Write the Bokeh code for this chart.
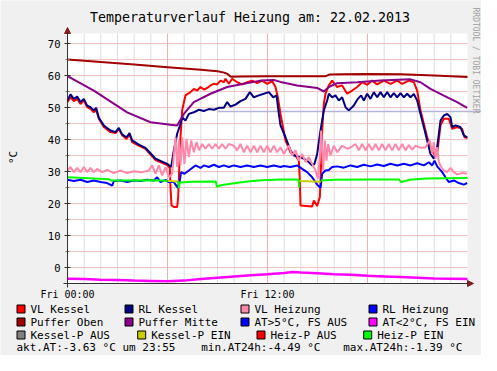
import math
from bokeh.plotting import figure
from bokeh.models import Range1d, Arrow, NormalHead
from bokeh.core.properties import value
from bokeh.embed import file_html
from bokeh.resources import INLINE

nan = float("nan")
FONT = "DejaVu Sans Mono"

# ---------------- data (hours since Fri 00:00, temperature in degC) ----------------
vl_kessel = [(0.0, 51.7), (0.18, 53.2), (0.38, 52.0), (0.58, 52.7), (0.78, 51.1), (0.98, 52.2),
             (1.18, 50.1), (1.38, 49.6), (1.58, 48.5), (1.72, 49.3), (1.88, 46.5), (2.18, 43.9),
             (2.58, 42.3), (2.88, 42.0), (3.08, 43.3), (3.28, 41.3), (3.54, 40.2), (3.72, 41.6),
             (3.88, 39.2), (4.28, 38.1), (4.68, 37.1), (4.98, 35.3), (5.28, 33.6), (5.68, 32.7),
             (5.98, 32.0), (6.14, 31.1), (6.18, 25.1), (6.24, 19.4), (6.38, 18.9), (6.58, 18.9),
             (6.64, 22.0), (6.70, 30.3), (6.78, 40.7), (6.88, 49.1), (7.08, 53.8), (7.38, 54.8),
             (7.58, 55.8), (7.78, 55.3), (7.98, 56.4), (8.18, 55.6), (8.38, 56.1), (8.58, 56.9),
             (8.78, 57.4), (8.98, 57.2), (9.18, 58.4), (9.38, 57.9), (9.48, 59.0), (9.68, 57.4),
             (9.88, 59.0), (10.18, 57.9), (10.48, 57.2), (10.78, 57.9), (11.08, 58.4), (11.38, 57.6),
             (11.68, 58.4), (11.98, 57.4), (12.28, 58.2), (12.48, 56.4), (12.62, 53.2), (12.78, 48.0),
             (13.08, 39.7), (13.38, 36.0), (13.68, 35.0), (13.88, 33.4), (13.94, 27.2), (13.98, 19.4),
             (14.68, 19.1), (14.78, 20.9), (14.98, 19.2), (15.14, 22.0), (15.18, 27.2), (15.28, 42.8),
             (15.38, 51.1), (15.48, 54.3), (15.68, 56.9), (15.88, 58.4), (16.18, 56.4), (16.48, 56.9),
             (16.78, 54.3), (17.08, 55.3), (17.38, 56.4), (17.68, 57.9), (17.98, 57.1), (18.28, 58.4),
             (18.58, 57.2), (18.98, 58.4), (19.38, 57.4), (19.78, 58.4), (20.08, 57.4), (20.48, 58.4),
             (20.78, 57.9), (20.98, 55.3), (21.18, 49.1), (21.38, 44.9), (21.58, 40.7), (21.78, 37.6),
             (21.98, 35.5), (22.18, 35.5), (22.38, 44.4), (22.58, 46.5), (22.88, 46.5), (23.08, 43.3),
             (23.38, 43.9), (23.68, 43.3), (23.82, 40.7), (24.0, 40.5)]

rl_kessel = [(0.0, 52.2), (0.18, 54.1), (0.38, 52.7), (0.58, 53.4), (0.78, 51.7), (0.98, 52.7),
             (1.18, 50.6), (1.38, 50.1), (1.58, 49.1), (1.72, 49.9), (1.88, 46.8), (2.18, 44.4),
             (2.58, 42.8), (2.88, 42.3), (3.08, 43.6), (3.28, 41.6), (3.54, 40.7), (3.72, 42.0),
             (3.88, 39.7), (4.28, 38.4), (4.68, 37.4), (4.98, 35.7), (5.28, 34.0), (5.68, 33.1),
             (5.98, 32.4), (6.22, 31.4), (6.38, 36.6), (6.58, 41.8), (6.78, 44.9), (6.88, 47.0),
             (7.08, 45.9), (7.28, 48.0), (7.58, 48.5), (7.88, 49.3), (8.18, 48.9), (8.48, 49.5),
             (8.78, 49.3), (9.08, 49.9), (9.38, 49.9), (9.58, 51.7), (9.78, 50.3), (10.08, 50.9),
             (10.38, 52.0), (10.68, 52.7), (10.94, 54.8), (11.18, 53.2), (11.48, 53.8), (11.78, 54.3),
             (12.08, 54.8), (12.34, 53.2), (12.54, 53.8), (12.68, 48.0), (12.78, 44.4), (13.08, 40.7),
             (13.38, 36.6), (13.58, 35.0), (13.98, 34.5), (14.38, 33.4), (14.68, 31.9), (14.82, 32.4),
             (14.98, 35.5), (15.18, 42.8), (15.38, 49.1), (15.58, 52.2), (15.68, 54.3), (15.88, 53.2),
             (16.08, 53.8), (16.28, 52.2), (16.48, 53.2), (16.68, 50.1), (16.88, 49.1), (17.18, 50.6),
             (17.42, 52.7), (17.62, 53.8), (17.78, 52.2), (17.98, 54.3), (18.18, 52.7), (18.38, 54.8),
             (18.58, 53.2), (18.78, 54.8), (18.98, 53.2), (19.18, 54.8), (19.38, 53.2), (19.58, 54.5),
             (19.78, 53.2), (19.98, 54.5), (20.18, 53.2), (20.38, 54.3), (20.58, 53.2), (20.78, 54.2),
             (20.98, 52.2), (21.18, 48.0), (21.38, 43.9), (21.58, 39.7), (21.78, 35.5), (21.98, 34.0),
             (22.18, 37.6), (22.38, 45.9), (22.58, 47.5), (22.78, 48.0), (22.98, 47.0), (23.08, 43.9),
             (23.28, 44.4), (23.58, 43.9), (23.78, 41.3), (23.98, 40.7)]

vl_heizung = [(0.0, 30.3), (0.18, 31.4), (0.38, 29.8), (0.58, 31.1), (0.78, 29.8), (0.98, 31.4),
              (1.18, 29.8), (1.38, 31.1), (1.58, 29.8), (1.78, 30.8), (2.08, 29.8), (2.38, 30.5),
              (2.78, 29.5), (3.18, 30.3), (3.58, 29.5), (3.98, 30.1), (4.48, 29.8), (4.88, 30.3),
              (5.08, 31.9), (5.28, 29.3), (5.48, 31.9), (5.68, 28.8), (5.88, 31.4), (6.08, 28.2),
              (6.28, 29.3), (6.48, 40.7), (6.58, 31.4), (6.68, 39.7), (6.78, 31.9), (6.88, 40.7),
              (7.02, 32.4), (7.14, 40.2), (7.28, 34.5), (7.42, 39.7), (7.58, 36.0), (7.74, 39.2),
              (7.90, 36.6), (8.08, 38.6), (8.28, 37.1), (8.48, 38.6), (8.68, 37.1), (8.88, 38.6),
              (9.08, 37.1), (9.28, 38.6), (9.48, 37.1), (9.68, 38.6), (9.98, 38.1), (10.18, 36.6),
              (10.38, 38.6), (10.58, 36.0), (10.78, 38.1), (10.98, 36.0), (11.18, 38.1), (11.38, 36.0),
              (11.58, 38.1), (11.78, 36.0), (11.98, 38.1), (12.18, 36.0), (12.38, 38.1), (12.58, 36.0),
              (12.78, 37.6), (12.98, 35.5), (13.28, 38.1), (13.48, 35.0), (13.68, 36.6), (13.88, 33.4),
              (14.08, 35.5), (14.28, 32.9), (14.48, 34.5), (14.68, 32.4), (14.88, 30.3), (15.02, 27.7),
              (15.14, 34.5), (15.22, 42.8), (15.34, 30.3), (15.44, 39.7), (15.54, 33.4), (15.64, 38.6),
              (15.78, 35.0), (15.98, 38.1), (16.18, 36.0), (16.48, 38.1), (16.78, 37.1), (17.08, 37.8),
              (17.28, 38.6), (17.48, 36.6), (17.68, 38.6), (17.88, 36.6), (18.08, 38.6), (18.28, 36.6),
              (18.48, 38.6), (18.68, 36.6), (18.88, 38.6), (19.08, 36.6), (19.28, 38.6), (19.48, 36.6),
              (19.68, 38.6), (19.88, 36.6), (20.08, 38.6), (20.28, 36.6), (20.48, 38.3), (20.68, 36.8),
              (20.88, 38.1), (21.18, 37.4), (21.48, 37.6), (21.74, 39.7), (21.88, 35.5), (21.98, 39.2),
              (22.08, 34.0), (22.18, 37.6), (22.28, 32.9), (22.42, 31.4), (22.58, 30.3), (22.78, 29.8),
              (22.98, 31.1), (23.18, 29.8), (23.38, 29.1), (23.68, 29.5), (23.98, 29.3)]

rl_heizung = [(0.0, 27.4), (0.38, 27.0), (0.78, 27.4), (1.18, 26.7), (1.58, 27.2), (1.98, 26.7),
              (2.38, 26.4), (2.68, 25.6), (2.78, 27.0), (3.18, 27.2), (3.58, 26.7), (3.98, 27.2),
              (4.38, 27.0), (4.78, 27.4), (5.18, 27.2), (5.38, 28.2), (5.58, 26.7), (5.88, 27.4),
              (6.08, 26.7), (6.38, 26.7), (6.62, 24.9), (6.74, 27.2), (6.82, 29.8), (7.02, 29.3),
              (7.28, 30.3), (7.48, 31.1), (7.68, 31.9), (7.98, 31.1), (8.18, 31.9), (8.48, 31.4),
              (8.78, 32.1), (9.08, 31.4), (9.38, 31.9), (9.68, 31.4), (9.98, 31.9), (10.38, 31.4),
              (10.78, 31.9), (11.18, 31.4), (11.58, 31.9), (11.98, 31.4), (12.38, 31.9), (12.78, 31.4),
              (12.98, 31.7), (13.38, 31.4), (13.78, 31.9), (14.08, 30.8), (14.38, 29.8), (14.68, 28.2),
              (14.98, 25.9), (15.18, 24.9), (15.28, 29.3), (15.48, 30.3), (15.68, 30.5), (15.88, 31.4),
              (16.18, 31.6), (16.58, 31.2), (16.98, 31.9), (17.38, 31.4), (17.78, 32.1), (18.18, 31.6),
              (18.58, 32.2), (18.98, 31.7), (19.38, 32.4), (19.78, 31.9), (20.18, 32.4), (20.58, 31.9),
              (20.98, 32.6), (21.38, 31.9), (21.68, 32.9), (21.88, 31.9), (22.02, 33.4), (22.18, 31.6),
              (22.48, 29.8), (22.68, 28.2), (22.88, 26.7), (23.18, 27.2), (23.48, 26.4), (23.78, 25.9),
              (23.98, 26.4)]

puffer_oben = [(0.0, 65.0), (2.0, 64.2), (4.0, 63.4), (6.0, 62.6), (8.0, 61.8), (9.0, 61.3),
               (9.4, 60.9), (9.6, 60.5), (9.8, 59.6), (10.5, 59.7), (12.0, 59.8), (14.0, 59.8),
               (15.5, 59.8), (15.7, 60.3), (16.5, 60.4), (18.0, 60.5), (20.0, 60.4), (22.0, 60.0),
               (24.0, 59.5)]

puffer_mitte = [(0.0, 59.8), (1.58, 55.3), (3.58, 48.5), (4.98, 45.4), (6.18, 44.6), (6.58, 44.4),
                (6.98, 48.0), (7.58, 51.7), (8.58, 54.3), (9.58, 56.4), (10.58, 57.4), (11.58, 58.4),
                (12.38, 58.6), (12.78, 58.0), (13.78, 56.9), (14.98, 56.1), (15.38, 55.0), (15.68, 56.4),
                (16.18, 57.6), (17.38, 57.9), (18.78, 58.4), (20.58, 58.8), (21.18, 57.9), (21.78, 55.8),
                (22.58, 53.7), (23.38, 51.7), (23.98, 49.9)]

aussentemp = [(0.0, -3.5), (1.0, -3.6), (2.0, -3.8), (3.0, -3.9), (4.0, -4.1), (5.0, -4.2),
              (6.0, -4.3), (7.0, -4.1), (8.0, -3.6), (9.0, -3.2), (10.0, -2.8), (11.0, -2.4),
              (12.0, -2.1), (13.0, -1.7), (13.5, -1.4), (14.0, -1.6), (15.0, -1.8), (16.0, -2.1),
              (17.0, -2.3), (18.0, -2.6), (19.0, -2.8), (20.0, -3.0), (21.0, -3.2), (22.0, -3.4),
              (23.0, -3.5), (24.0, -3.6)]

kessel_p_ein = [(6.0, 27.0), (6.66, 26.9), (6.67, nan), (13.9, 27.0), (15.2, 26.8)]

heiz_p_ein = [(0.0, 28.2), (1.0, 28.0), (2.5, 27.6), (2.6, 27.2), (5.0, 27.3), (6.0, 27.1),
              (6.05, nan), (6.64, 26.9), (6.68, 24.8), (6.74, 26.6), (7.5, 26.8), (8.9, 26.9),
              (8.96, 25.2), (9.2, 25.7), (10.0, 26.3), (10.8, 26.9), (11.6, 27.3), (12.8, 27.5),
              (13.86, 27.5), (13.9, 25.0), (13.92, nan), (15.2, 27.2), (16.0, 27.4), (18.0, 27.5),
              (19.9, 27.5), (20.0, 26.7), (20.2, 26.9), (20.5, 27.4), (21.5, 27.8), (24.0, 28.0)]

hrule_value = 48.75
hrule_start = 9.0

y_tick_values = [0, 10, 20, 30, 40, 50, 60, 70]
x_tick_hours = [0, 12]
x_tick_labels = ["Fri 00:00", "Fri 12:00"]

legend_labels = ["VL Kessel", "RL Kessel", "VL Heizung", "RL Heizung",
                 "Puffer Oben", "Puffer Mitte", "AT>5°C, FS AUS", "AT<2°C, FS EIN",
                 "Kessel-P AUS", "Kessel-P EIN", "Heiz-P AUS", "Heiz-P EIN"]
legend_colors = ["#ff0000", "#000080", "#ff88aa", "#0000ff",
                 "#a00000", "#880088", "#0000ff", "#ff00ff",
                 "#808080", "#cccc00", "#ff0000", "#00ff00"]
stats_texts = ["akt.AT:-3.63 °C um 23:55", "min.AT24h:-4.49 °C", "max.AT24h:-1.39 °C"]
title_text = "Temperaturverlauf Heizung am: 22.02.2013"
side_text = "RRDTOOL / TOBI OETIKER"
y_unit = "°C"

# ---------------- scales: plot area 67..467 px (24 h) x 33..283 px (-5..73.125 degC) ----------------
W, H = 481, 355
X0, Y0 = 67, 283
PX_H = 400 / 24.0
PX_V = 3.2
V_MIN, V_MAX = -5, 73.125


def hx(px):
    return (px - X0) / PX_H


def vy(py):
    return V_MIN + (Y0 - py) / PX_V


p = figure(width=W, height=H, x_range=Range1d(hx(0), hx(W)), y_range=Range1d(vy(H), vy(0)),
           output_backend="svg", toolbar_location=None, min_border=0,
           x_axis_location=None, y_axis_location=None)
p.grid.visible = False
p.outline_line_color = None
p.background_fill_color = "#f0f0f0"
p.border_fill_color = "#f0f0f0"

# plot canvas
p.quad(left=[0], right=[24], bottom=[V_MIN], top=[V_MAX], fill_color="#ffffff", line_color=None)

# grid
minor_h = [h for h in range(1, 24) if h % 6]
major_h = [6, 12, 18]
p.segment(x0=minor_h, y0=[V_MIN] * len(minor_h), x1=minor_h, y1=[V_MAX] * len(minor_h),
          line_color="#dcdcdc", line_width=1)
h_levels = list(range(0, 71, 5))
p.segment(x0=[0] * len(h_levels), y0=h_levels, x1=[24] * len(h_levels), y1=h_levels,
          line_color="#f3c4c4", line_width=1)
p.segment(x0=major_h, y0=[V_MIN] * 3, x1=major_h, y1=[V_MAX] * 3,
          line_color="#f0b0b0", line_width=1)

# horizontal rule
p.segment(x0=[hrule_start], y0=[hrule_value], x1=[hx(W + 20)], y1=[hrule_value],
          line_color="#b4b4d8", line_width=1.5)


def xy(pairs):
    return [a for a, _ in pairs], [b for _, b in pairs]


series = [
    (vl_kessel, "#ff0000", 2),
    (rl_kessel, "#000080", 2),
    (vl_heizung, "#ff88aa", 2),
    (rl_heizung, "#0000ff", 2),
    (puffer_oben, "#a00000", 2),
    (puffer_mitte, "#880088", 2),
    (aussentemp, "#ff00ff", 2.5),
    (kessel_p_ein, "#cccc00", 2),
    (heiz_p_ein, "#00ff00", 2),
]
for data, col, lw in series:
    xs, ys = xy(data)
    p.line(xs, ys, line_color=col, line_width=lw)

# axes with arrows
axis_col = "#333333"
arrow_col = "#7f1f1f"
p.add_layout(Arrow(end=NormalHead(size=6, fill_color=arrow_col, line_color=arrow_col),
                   x_start=hx(63), y_start=V_MIN, x_end=hx(473), y_end=V_MIN,
                   line_color=axis_col, line_width=1))
p.add_layout(Arrow(end=NormalHead(size=6, fill_color=arrow_col, line_color=arrow_col),
                   x_start=0, y_start=vy(287), x_end=0, y_end=vy(27),
                   line_color=axis_col, line_width=1))
minor_v = [v for v in range(-5, 71, 5) if v % 10]
p.segment(x0=[hx(64)] * len(y_tick_values), y0=y_tick_values,
          x1=[hx(70)] * len(y_tick_values), y1=y_tick_values, line_color=axis_col, line_width=1)
p.segment(x0=[hx(65)] * len(minor_v), y0=minor_v, x1=[hx(69)] * len(minor_v), y1=minor_v,
          line_color="#777777", line_width=1)

# tick labels
p.text(x=[hx(60)] * len(y_tick_values), y=y_tick_values, text=[str(v) for v in y_tick_values],
       text_font=value(FONT), text_font_size=value("10.5px"), text_align="right",
       text_baseline="middle", text_color="#000000")
p.text(x=x_tick_hours, y=[vy(294)] * len(x_tick_hours), text=x_tick_labels,
       text_font=value(FONT), text_font_size=value("10px"), text_align="center",
       text_baseline="middle", text_color="#000000")
p.text(x=[hx(13)], y=[vy(157)], text=[y_unit], angle=math.pi / 2,
       text_font=value(FONT), text_font_size=value("11px"), text_align="center",
       text_baseline="middle", text_color="#000000")

# title and side text
p.text(x=[hx(249.5)], y=[vy(16.5)], text=[title_text], text_font=value(FONT),
       text_font_size=value("13.3px"), text_align="center", text_baseline="middle",
       text_color="#000000")
p.text(x=[hx(475)], y=[vy(60)], text=[side_text], angle=-math.pi / 2, text_font=value(FONT),
       text_font_size=value("8px"), text_align="center", text_baseline="middle",
       text_color="#a0a0a0")

# legend (reference pixel layout)
row_y = [308.5, 321.5, 334.5]
box_left = [[16, 124, 240, 368], [16, 124, 240, 368], [16, 136.7, 256, 362.7]]
bx, byy, tx, ty = [], [], [], []
for r in range(3):
    for c in range(4):
        bx.append(hx(box_left[r][c] + 4.5))
        byy.append(vy(row_y[r]))
        tx.append(hx(box_left[r][c] + 14))
        ty.append(vy(row_y[r]))
p.rect(x=bx, y=byy, width=8, height=8, width_units="screen", height_units="screen",
       fill_color=legend_colors, line_color="#000000", line_width=1)
p.text(x=tx, y=ty, text=legend_labels, text_font=value(FONT), text_font_size=value("11px"),
       text_align="left", text_baseline="middle", text_color="#000000")

stats_x = [16, 200.7, 342.7]
p.text(x=[hx(v) for v in stats_x], y=[vy(346.5)] * 3, text=stats_texts, text_font=value(FONT),
       text_font_size=value("11px"), text_align="left", text_baseline="middle",
       text_color="#000000")

open("out.html", "w").write(file_html(p, INLINE))
